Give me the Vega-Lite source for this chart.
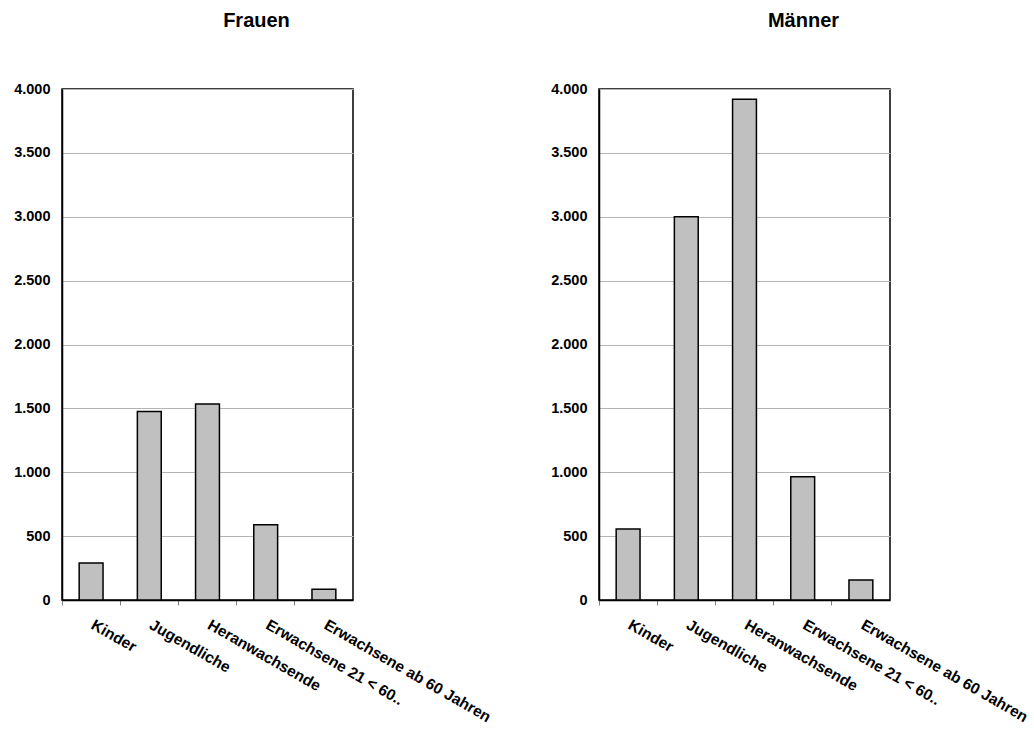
{
  "$schema": "https://vega.github.io/schema/vega-lite/v6.json",
  "background": "white",
  "padding": {"left": 12, "top": 10, "right": 5, "bottom": 5},
  "config": {
    "locale": {"number": {"decimal": ",", "thousands": ".", "grouping": [3], "currency": ["", " €"]}},
    "font": "Liberation Sans",
    "view": {"stroke": "black", "strokeWidth": 1.5}
  },
  "datasets": {
    "frauen": [
      {"Gruppe": "Kinder", "Anzahl": 290},
      {"Gruppe": "Jugendliche", "Anzahl": 1475},
      {"Gruppe": "Heranwachsende", "Anzahl": 1535},
      {"Gruppe": "Erwachsene 21 < 60..", "Anzahl": 590},
      {"Gruppe": "Erwachsene ab 60 Jahren", "Anzahl": 85}
    ],
    "maenner": [
      {"Gruppe": "Kinder", "Anzahl": 555},
      {"Gruppe": "Jugendliche", "Anzahl": 3000},
      {"Gruppe": "Heranwachsende", "Anzahl": 3920},
      {"Gruppe": "Erwachsene 21 < 60..", "Anzahl": 965},
      {"Gruppe": "Erwachsene ab 60 Jahren", "Anzahl": 157}
    ]
  },
  "bounds": "flush",
  "spacing": 246,
  "hconcat": [
    {
      "title": {"text": "Frauen", "fontSize": 20, "fontWeight": "bold", "color": "black", "offset": 50, "dx": 49},
      "width": 291,
      "height": 511,
      "data": {"name": "frauen"},
      "mark": {"type": "bar", "fill": "#c0c0c0", "stroke": "black", "strokeWidth": 1.5, "width": {"band": 0.41}},
      "encoding": {
        "x": {"field": "Gruppe", "type": "nominal", "sort": null,
          "scale": {"paddingInner": 0, "paddingOuter": 0},
          "axis": {"title": null, "labelAngle": 30, "labelAlign": "left", "labelBaseline": "top", "labelFontSize": 15.5, "labelFontWeight": "bold", "labelColor": "black", "labelPadding": 12, "labelOffset": 5, "bandPosition": 0, "tickColor": "#808080", "tickSize": 5, "domainColor": "black", "domainWidth": 1.5, "labelLimit": 0, "labelOverlap": false}},
        "y": {"field": "Anzahl", "type": "quantitative", "scale": {"domain": [0, 4000]},
          "axis": {"title": null, "values": [0, 500, 1000, 1500, 2000, 2500, 3000, 3500, 4000], "format": ",d", "labelFontSize": 14.5, "labelFontWeight": "bold", "labelColor": "black", "ticks": false, "labelPadding": 12, "gridColor": "#b4b4b4", "gridWidth": 1, "domainColor": "black", "domainWidth": 1.5}}
      }
    },
    {
      "title": {"text": "Männer", "fontSize": 20, "fontWeight": "bold", "color": "black", "offset": 50, "dx": 59},
      "width": 291,
      "height": 511,
      "data": {"name": "maenner"},
      "mark": {"type": "bar", "fill": "#c0c0c0", "stroke": "black", "strokeWidth": 1.5, "width": {"band": 0.41}},
      "encoding": {
        "x": {"field": "Gruppe", "type": "nominal", "sort": null,
          "scale": {"paddingInner": 0, "paddingOuter": 0},
          "axis": {"title": null, "labelAngle": 30, "labelAlign": "left", "labelBaseline": "top", "labelFontSize": 15.5, "labelFontWeight": "bold", "labelColor": "black", "labelPadding": 12, "labelOffset": 5, "bandPosition": 0, "tickColor": "#808080", "tickSize": 5, "domainColor": "black", "domainWidth": 1.5, "labelLimit": 0, "labelOverlap": false}},
        "y": {"field": "Anzahl", "type": "quantitative", "scale": {"domain": [0, 4000]},
          "axis": {"title": null, "values": [0, 500, 1000, 1500, 2000, 2500, 3000, 3500, 4000], "format": ",d", "labelFontSize": 14.5, "labelFontWeight": "bold", "labelColor": "black", "ticks": false, "labelPadding": 12, "gridColor": "#b4b4b4", "gridWidth": 1, "domainColor": "black", "domainWidth": 1.5}}
      }
    }
  ]
}
